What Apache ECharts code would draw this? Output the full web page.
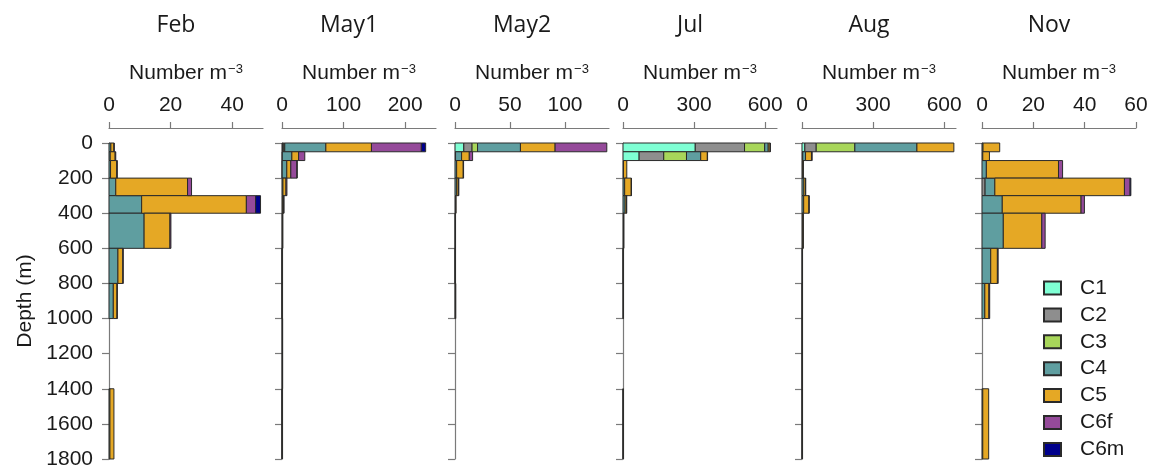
<!DOCTYPE html>
<html>
<head>
<meta charset="utf-8">
<script src="https://cdn.jsdelivr.net/npm/echarts@6/dist/echarts.min.js"></script>
<style>
  html, body { margin: 0; padding: 0; background: #ffffff; }
  #chart { width: 1151px; height: 469px; }
</style>
</head>
<body>
<div id="chart"></div>
<script>
// Copepodite stages and their fill colours
const stages = ['C1', 'C2', 'C3', 'C4', 'C5', 'C6f', 'C6m'];
const stageColors = ['#7fffd4', '#8e8e8e', '#a8d65a', '#5f9ea0', '#e5a825', '#954a9a', '#00008b'];

// Sampling depth layers (m)
const binTop    = [0, 50, 100, 200, 300, 400, 600, 800, 1000, 1400];
const binBottom = [50, 100, 200, 300, 400, 600, 800, 1000, 1400, 1800];

const months = ['Feb', 'May1', 'May2', 'Jul', 'Aug', 'Nov'];

// Abundance (Number m^-3) per layer, columns C1, C2, C3, C4, C5, C6f, C6m; null = layer not sampled
const feb = [
  [0, 0, 0, 0.6, 1.0, 0.1, 0],
  [0, 0, 0, 0.4, 1.6, 0.2, 0],
  [0, 0, 0, 0.5, 2.0, 0.2, 0],
  [0, 0, 0, 2.2, 23.3, 1.3, 0],
  [0, 0, 0, 10.6, 34.0, 3.0, 1.6],
  [0, 0, 0, 11.4, 8.4, 0.3, 0],
  [0, 0, 0, 2.9, 1.6, 0.1, 0],
  [0, 0, 0, 1.4, 1.2, 0.1, 0],
  null,
  [0, 0, 0, 0.3, 1.3, 0, 0]
];
const may1 = [
  [1.0, 2.0, 1.5, 66.7, 74.0, 81.0, 7.0],
  [0, 0.5, 0, 15.5, 11.0, 10.0, 0],
  [0, 0.3, 0, 7.5, 6.5, 10.0, 0.2],
  [0, 0, 0, 1.5, 5.0, 1.5, 0],
  [0, 0, 0, 1.2, 1.6, 0.2, 0],
  [0, 0, 0, 0.6, 0.8, 0, 0],
  [0, 0, 0, 0.1, 0.1, 0, 0],
  [0, 0, 0, 0.1, 0.1, 0, 0],
  [0, 0, 0, 0.5, 0.5, 0, 0],
  [0, 0, 0, 0.1, 0.1, 0, 0]
];
const may2 = [
  [8.0, 7.5, 5.0, 39.0, 31.5, 47.0, 0],
  [0.5, 0, 0, 5.5, 7.0, 3.0, 0],
  [0, 0, 0, 1.5, 6.0, 0.3, 0],
  [0, 0, 0, 1.5, 1.5, 0.5, 0],
  [0, 0, 0, 0.5, 0.5, 0, 0],
  [0, 0, 0, 0.2, 0.2, 0, 0],
  [0, 0, 0, 0.1, 0.1, 0, 0],
  [0, 0, 0, 0.3, 0.4, 0, 0],
  null,
  null
];
const jul = [
  [305, 208, 85, 15, 8, 1, 0],
  [68, 104, 96, 60, 28, 1, 0],
  [0, 0, 0, 2, 14, 0, 0],
  [0, 0, 0, 7, 28, 0.5, 0],
  [0, 0, 0, 9, 6, 0.5, 0],
  [0, 0, 0, 2, 2, 0, 0],
  [0, 0, 0, 0.5, 0.5, 0, 0],
  [0, 0, 0, 1, 1, 0, 0],
  null,
  [0, 0, 0, 0.5, 0.5, 0, 0]
];
const aug = [
  [12, 48, 163, 262, 156, 0, 0],
  [0, 3, 0, 12, 25, 3, 0],
  [0, 0, 0, 3, 3, 0, 0],
  [0, 0, 0, 8, 7, 0.5, 0],
  [0, 0, 0, 7, 22.5, 0.5, 0],
  [0, 0, 0, 3, 3, 0, 0],
  [0, 0, 0, 1, 1, 0, 0],
  [0, 0, 0, 0.5, 0.5, 0, 0],
  [0, 0, 0, 0.5, 0.5, 0, 0],
  [0, 0, 0, 0.5, 0.5, 0, 0]
];
const nov = [
  [0, 0, 0, 0.4, 6.5, 0, 0],
  [0, 0, 0, 0.3, 2.6, 0, 0],
  [0, 0, 0, 1.7, 28.1, 1.6, 0],
  [0, 1.2, 0, 3.8, 50.5, 2.2, 0.3],
  [0, 0, 0, 7.9, 30.7, 1.3, 0],
  [0, 0, 0, 8.3, 15.0, 1.3, 0],
  [0, 0, 0, 3.4, 2.6, 0.3, 0],
  [0, 0, 0, 1.1, 1.6, 0.3, 0],
  null,
  [0, 0, 0, 0.3, 2.3, 0, 0]
];
const monthData = [feb, may1, may2, jul, aug, nov];

// Abundance axis range and tick labels for each panel
const axisMax = [50, 250, 140, 650, 650, 60];
const axisStep = [20, 100, 50, 300, 300, 20];
const axisTicks = [[0, 20, 40], [0, 100, 200], [0, 50, 100], [0, 300, 600], [0, 300, 600], [0, 20, 40, 60]];

// Panel geometry
const panelLeft = [109, 282, 455, 623, 802, 982];
const panelWidth = 154;
const panelTop = 143;
const panelHeight = 316;

const FONT = 'Liberation Sans, Arial, Helvetica, sans-serif';
const INK = '#1a1a1a';
const AXIS_GREY = '#7a7a7a';

const grids = [], xAxes = [], yAxes = [], series = [], titles = [];

function renderSegment(params, api) {
  const a = api.coord([api.value(2), api.value(0)]);
  const b = api.coord([api.value(3), api.value(1)]);
  return {
    type: 'rect',
    shape: { x: a[0], y: a[1], width: b[0] - a[0], height: b[1] - a[1] },
    style: { fill: api.visual('color'), stroke: '#2a2a2a', lineWidth: 1 }
  };
}

months.forEach((m, i) => {
  grids.push({
    left: panelLeft[i], top: panelTop, width: panelWidth, height: panelHeight,
    containLabel: false, outerBoundsMode: 'none'
  });
  xAxes.push({
    gridIndex: i, type: 'value', position: 'top', offset: 15,
    min: 0, max: axisMax[i], interval: axisStep[i],
    name: 'Number m{sup|\u22123}', nameLocation: 'middle', nameGap: 44, nameMoveOverlap: false,
    nameTextStyle: {
      fontFamily: FONT, fontSize: 21, color: INK,
      rich: { sup: { fontFamily: FONT, fontSize: 13, color: INK, verticalAlign: 'top', padding: [0, 0, 6, 1] } }
    },
    axisLine: { show: true, onZero: false, lineStyle: { color: AXIS_GREY, width: 1.2 } },
    axisTick: { show: true, length: 6, customValues: axisTicks[i], lineStyle: { color: AXIS_GREY, width: 1.2 } },
    axisLabel: { customValues: axisTicks[i], fontFamily: FONT, fontSize: 21, color: INK, margin: 12 },
    splitLine: { show: false }
  });
  yAxes.push({
    gridIndex: i, type: 'value', inverse: true, min: 0, max: 1800, interval: 200,
    name: i === 0 ? 'Depth (m)' : '', nameLocation: 'middle', nameGap: 73, nameMoveOverlap: false,
    nameTextStyle: { fontFamily: FONT, fontSize: 21, color: INK },
    axisLine: { show: true, onZero: false, lineStyle: { color: AXIS_GREY, width: 1.2 } },
    axisTick: { show: true, length: 7, lineStyle: { color: AXIS_GREY, width: 1.2 } },
    axisLabel: {
      show: i === 0, fontFamily: FONT, fontSize: 21, color: INK, margin: 16,
      formatter: (v) => String(v)
    },
    splitLine: { show: false }
  });
  titles.push({
    type: 'text', x: panelLeft[i] + panelWidth / 2 - 10, y: 25,
    style: { text: m, fill: INK, font: '23px "Open Sans", sans-serif', align: 'center', verticalAlign: 'middle' }
  });

  // one custom series per stage: stacked segments from cumulative sums
  const rows = monthData[i];
  stages.forEach((s, k) => {
    const data = [];
    rows.forEach((row, b) => {
      if (!row) return;
      let start = 0;
      for (let j = 0; j < k; j++) start += row[j];
      const v = row[k];
      if (v > 0) data.push([binTop[b], binBottom[b], start, start + v]);
    });
    series.push({
      name: s, type: 'custom', xAxisIndex: i, yAxisIndex: i,
      renderItem: renderSegment,
      encode: { x: [2, 3], y: [0, 1] },
      itemStyle: { color: stageColors[k], borderColor: '#2a2a2a', borderWidth: 1 },
      data: data, animation: false, silent: true
    });
  });
});

const chart = echarts.init(document.getElementById('chart'), null, { renderer: 'canvas' });
chart.setOption({
  backgroundColor: '#ffffff',
  animation: false,
  grid: grids,
  xAxis: xAxes,
  yAxis: yAxes,
  series: series,
  legend: {
    data: stages, orient: 'vertical', left: 1043, top: 277.5, padding: 0,
    icon: 'rect', itemWidth: 17, itemHeight: 13, itemGap: 5.9,
    selectedMode: false,
    textStyle: { fontFamily: FONT, fontSize: 21, lineHeight: 21, color: INK, padding: [0, 0, 0, 14] }
  },
  graphic: titles
});
</script>
</body>
</html>
